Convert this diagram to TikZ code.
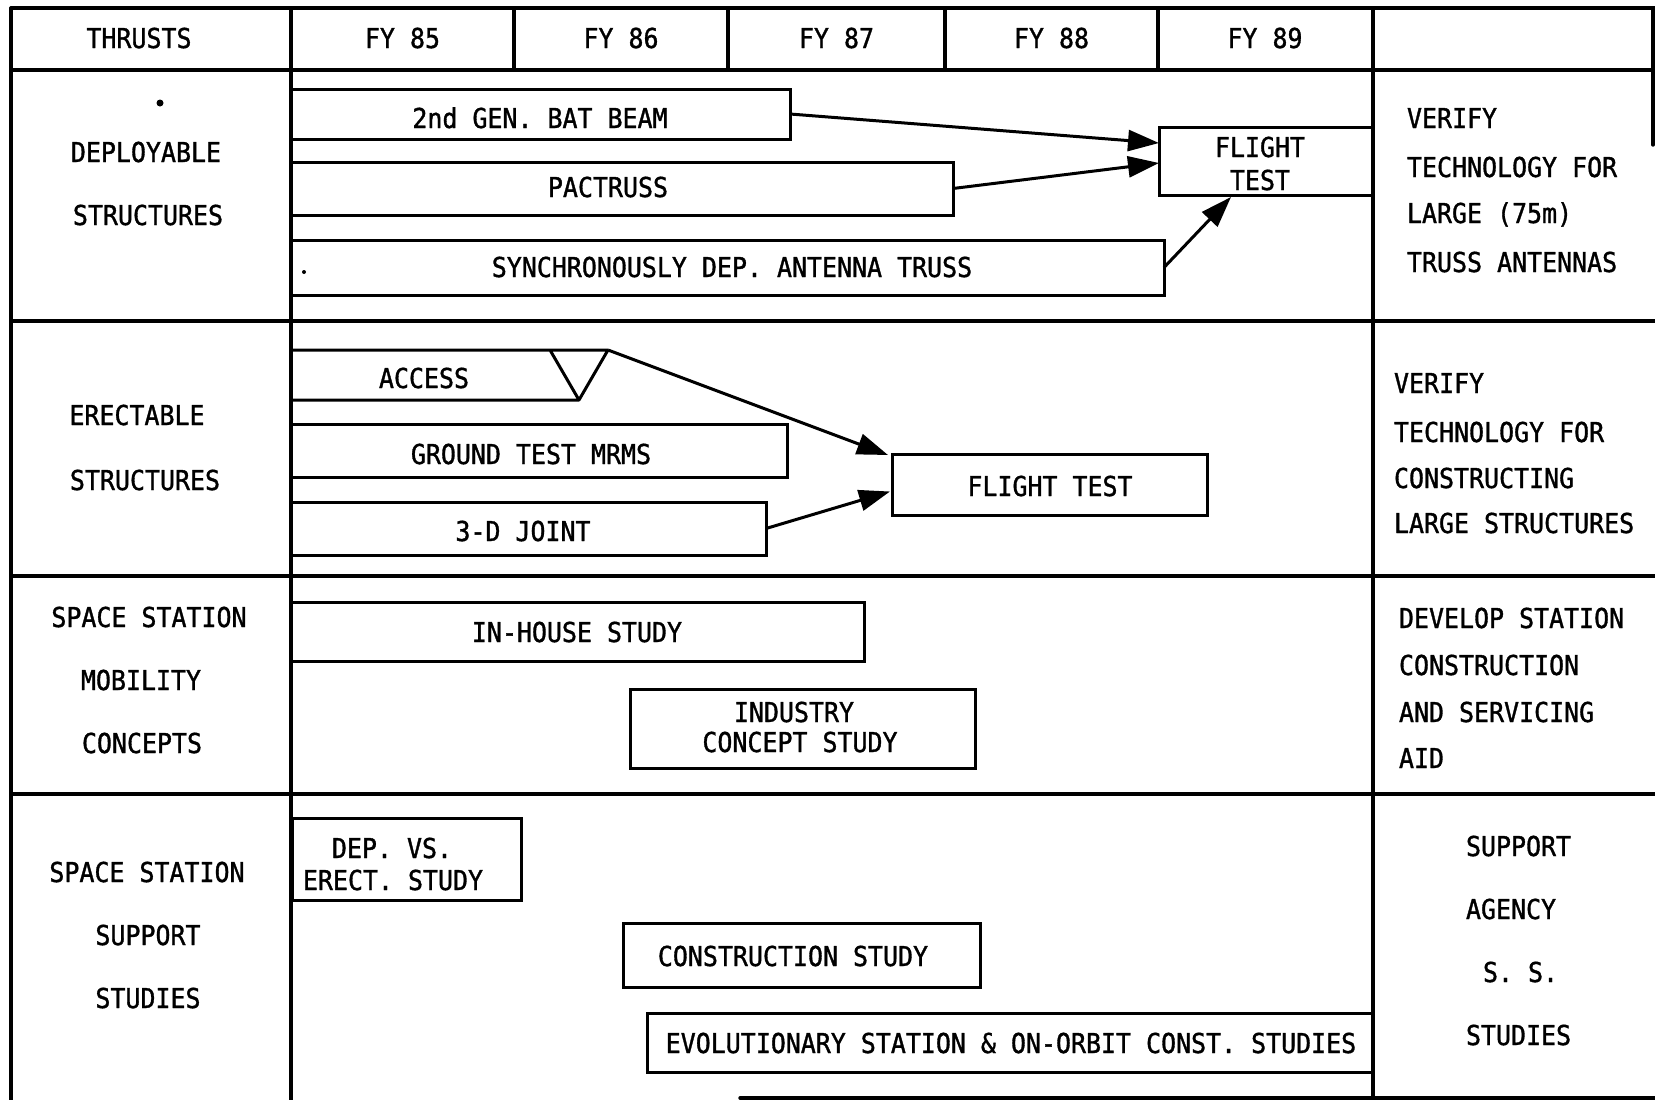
\documentclass[tikz,border=0pt]{standalone}
\usepackage{fontspec}
\newfontfamily\lett{DejaVu Sans Mono}[FakeStretch=0.91,FakeBold=1.2]
\usetikzlibrary{arrows.meta,calc}
\begin{document}
\begin{tikzpicture}[x=1pt,y=-1pt,
  grid/.style={line width=3.4pt,line cap=round},
  bx/.style={draw,line width=3pt,inner sep=0pt,outer sep=0pt},
  lbl/.style={font=\lett\fontsize{27.4}{33}\selectfont,inner sep=0pt,outer sep=0pt,text height=20pt,text depth=0pt},
  lw/.style={lbl,anchor=west},
  con/.style={line width=3pt,-{Triangle[length=31pt,width=21pt]}}]
\useasboundingbox (0,0) rectangle (1655,1100);
% table grid
\draw[grid] (11,8) -- (1655,8);
\draw[grid] (11,70) -- (1655,70);
\draw[grid] (11,321) -- (1655,321);
\draw[grid] (11,576) -- (1655,576);
\draw[grid] (11,794) -- (1655,794);
\draw[grid] (740,1098) -- (1655,1098);
\draw[grid] (11,8) -- (11,1100);
\draw[grid] (291,8) -- (291,1100);
\draw[grid] (1373,8) -- (1373,1100);
\draw[grid] (1653,8) -- (1653,145);
\foreach \cx in {514,728,945,1158} \draw[grid] (\cx,8) -- (\cx,70);
% header
\node[lbl] (hthr) at (139,38) {THRUSTS};
\node[lbl] (h85) at (402.5,38) {FY 85};
\node[lbl] (h86) at (621,38) {FY 86};
\node[lbl] (h87) at (836.5,38) {FY 87};
\node[lbl] (h88) at (1051.5,38) {FY 88};
\node[lbl] (h89) at (1265,38) {FY 89};
% left column
\fill (160,103) circle (3.5);
\node[lbl] (l1a) at (146,152) {DEPLOYABLE};
\node[lbl] (l1b) at (148,215) {STRUCTURES};
\node[lbl] (l2a) at (137,415) {ERECTABLE};
\node[lbl] (l2b) at (145,480) {STRUCTURES};
\node[lbl] (l3a) at (149,617) {SPACE STATION};
\node[lbl] (l3b) at (141,680) {MOBILITY};
\node[lbl] (l3c) at (142,743) {CONCEPTS};
\node[lbl] (l4a) at (147,872) {SPACE STATION};
\node[lbl] (l4b) at (148,935) {SUPPORT};
\node[lbl] (l4c) at (148,998) {STUDIES};
% right column
\node[lw] (r1a) at (1407,118) {VERIFY};
\node[lw] (r1b) at (1407,167) {TECHNOLOGY FOR};
\node[lw] (r1c) at (1407,213) {LARGE (75m)};
\node[lw] (r1d) at (1407,262) {TRUSS ANTENNAS};
\node[lw] (r2a) at (1394,383) {VERIFY};
\node[lw] (r2b) at (1394,432) {TECHNOLOGY FOR};
\node[lw] (r2c) at (1394,478) {CONSTRUCTING};
\node[lw] (r2d) at (1394,523) {LARGE STRUCTURES};
\node[lw] (r3a) at (1399,618) {DEVELOP STATION};
\node[lw] (r3b) at (1399,665) {CONSTRUCTION};
\node[lw] (r3c) at (1399,712) {AND SERVICING};
\node[lw] (r3d) at (1399,758) {AID};
\node[lw] (r4a) at (1466,846) {SUPPORT};
\node[lw] (r4b) at (1466,909) {AGENCY};
\node[lw] (r4c) at (1483,972) {S. S.};
\node[lw] (r4d) at (1466,1035) {STUDIES};
% row 1 bars
\node[bx,minimum width=499pt,minimum height=50pt] (batbeam) at (540.5,114) {};
\node[lbl] (tbat) at (540,118) {2nd GEN. BAT BEAM};
\node[bx,minimum width=662pt,minimum height=53pt] (pactruss) at (622,188.5) {};
\node[lbl] (tpac) at (608,187) {PACTRUSS};
\node[bx,minimum width=873pt,minimum height=55pt] (synch) at (727.5,267.5) {};
\node[lbl] (tsyn) at (732,267) {SYNCHRONOUSLY DEP. ANTENNA TRUSS};
\fill (304,272) circle (2);
\node[bx,minimum width=214pt,minimum height=68pt] (ft1) at (1266,161) {};
\node[lbl] (tft1a) at (1260,147) {FLIGHT};
\node[lbl] (tft1b) at (1260,180) {TEST};
\draw[con] (batbeam.east) -- ($(ft1.north west)+(0,16)$);
\draw[con] (pactruss.east) -- ($(ft1.west)+(0,2)$);
\draw[con] (synch.east) -- ($(ft1.south west)+(72,2)$);
% row 2 bars
\draw[line width=3pt,line join=round] (291,350) -- (608,350) (291,400) -- (579,400) (550,350) -- (579,400) -- (608,350);
\coordinate (accend) at (608,350);
\node[lbl] (tacc) at (424,378) {ACCESS};
\node[bx,minimum width=496pt,minimum height=53pt] (gtm) at (539,450.5) {};
\node[lbl] (tgtm) at (531,454) {GROUND TEST MRMS};
\node[bx,minimum width=475pt,minimum height=53pt] (joint) at (528.5,528.5) {};
\node[lbl] (tjoint) at (523,531) {3-D JOINT};
\node[bx,minimum width=315pt,minimum height=61pt] (ft2) at (1049.5,484.5) {};
\node[lbl] (tft2) at (1050,486) {FLIGHT TEST};
\draw[con] (accend) -- ($(ft2.north west)+(-4,1)$);
\draw[con] (joint.east) -- ($(ft2.west)+(-2,7)$);
% row 3 bars
\node[bx,minimum width=573pt,minimum height=59pt] (inhouse) at (577.5,631.5) {};
\node[lbl] (tinh) at (577,632) {IN-HOUSE STUDY};
\node[bx,minimum width=345pt,minimum height=79pt] (industry) at (802.5,728.5) {};
\node[lbl] (tind1) at (794,712) {INDUSTRY};
\node[lbl] (tind2) at (800,742) {CONCEPT STUDY};
% row 4 bars
\node[bx,minimum width=229pt,minimum height=82pt] (depvs) at (406.5,859) {};
\node[lbl] (tdep1) at (392,848) {DEP. VS.};
\node[lbl] (tdep2) at (393,880) {ERECT. STUDY};
\node[bx,minimum width=357pt,minimum height=64pt] (constr) at (802,955) {};
\node[lbl] (tcon) at (793,956) {CONSTRUCTION STUDY};
\node[bx,minimum width=726pt,minimum height=59pt] (evol) at (1010,1042.5) {};
\node[lbl] (tevo) at (1011,1043) {EVOLUTIONARY STATION \& ON-ORBIT CONST. STUDIES};
\end{tikzpicture}
\end{document}
